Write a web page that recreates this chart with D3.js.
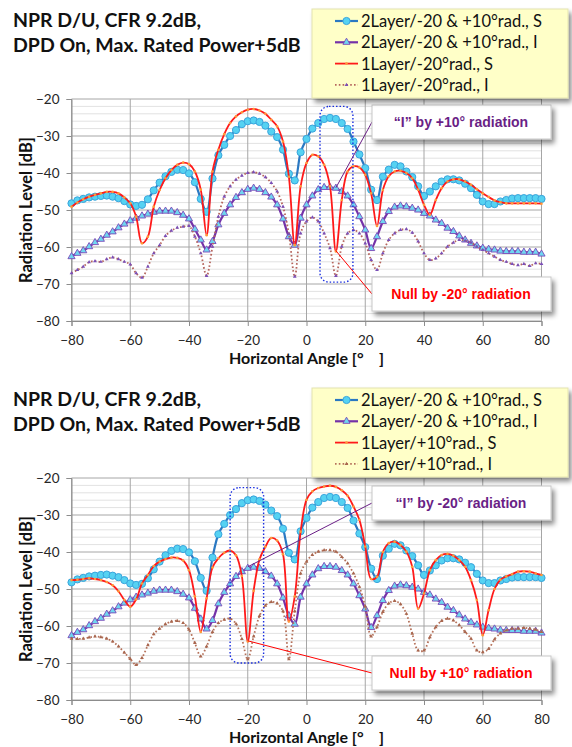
<!DOCTYPE html>
<html>
<head>
<meta charset="utf-8">
<script src="https://cdn.jsdelivr.net/npm/d3@7"></script>
<style>
  body { margin: 0; background: #fff; }
  svg { display: block; font-family: Lato, "Open Sans", sans-serif; }
</style>
</head>
<body>
<svg width="572" height="747"></svg>
<script>
// horizontal angle, 2 degree step
const angles = [-80, -78, -76, -74, -72, -70, -68, -66, -64, -62, -60, -58, -56, -54, -52, -50, -48, -46, -44, -42,
  -40, -38, -36, -34, -32, -30, -28, -26, -24, -22, -20, -18, -16, -14, -12, -10, -8, -6, -4, -2,
  0, 2, 4, 6, 8, 10, 12, 14, 16, 18, 20, 22, 24, 26, 28, 30, 32, 34, 36, 38,
  40, 42, 44, 46, 48, 50, 52, 54, 56, 58, 60, 62, 64, 66, 68, 70, 72, 74, 76, 78, 80];

// 2Layer/-20 & +10 rad., S (same in both charts)
const layer2S = [-48.2, -47.4, -47.0, -46.6, -46.4, -46.2, -46.1, -46.4, -46.8, -47.6, -48.5, -48.9, -48.6, -47.1, -44.7, -42.6, -40.9, -39.7, -39.1, -39.2,
  -40.1, -42.5, -47.0, -50.5, -41.5, -35.2, -32.4, -30.0, -28.4, -26.8, -26.0, -25.8, -26.2, -27.2, -28.8, -30.3, -33.7, -40.2, -42.0, -34.4,
  -30.8, -28.0, -26.5, -25.4, -25.1, -25.4, -26.5, -28.1, -31.5, -35.0, -38.7, -44.5, -47.3, -41.0, -39.1, -37.8, -38.2, -39.6, -41.1, -43.6,
  -46.2, -45.0, -43.6, -42.3, -41.7, -41.7, -42.0, -42.9, -44.1, -45.9, -47.7, -48.4, -48.4, -47.7, -47.3, -46.9, -46.8, -46.8, -46.8, -46.8, -47.0];

// 2Layer/-20 & +10 rad., I (same in both charts)
const layer2I = [-62.6, -61.7, -61.0, -59.9, -58.8, -57.9, -56.8, -55.9, -54.8, -53.8, -52.9, -52.2, -51.6, -51.1, -50.6, -50.3, -50.3, -50.3, -50.7, -51.4,
  -52.4, -55.2, -58.1, -60.8, -58.5, -54.0, -50.9, -48.6, -46.6, -45.3, -44.4, -44.1, -44.4, -45.3, -46.5, -48.6, -52.4, -57.2, -59.5, -52.2,
  -48.6, -46.2, -44.5, -43.9, -43.9, -44.1, -45.0, -46.2, -48.6, -51.8, -55.4, -60.4, -57.2, -53.1, -50.4, -49.2, -48.9, -49.1, -49.5, -50.0,
  -50.9, -51.6, -52.7, -53.6, -54.9, -55.8, -57.0, -58.1, -59.0, -59.7, -60.3, -60.6, -60.8, -61.1, -61.2, -61.2, -61.2, -61.4, -61.4, -61.4, -61.9];

// 1Layer/-20 rad., S
const minus20S = [-49.1, -48.0, -47.1, -46.4, -45.9, -45.5, -45.1, -45.1, -45.5, -46.6, -48.2, -51.8, -59.0, -57.2, -49.1, -44.6, -41.4, -39.2, -37.8, -37.2,
  -37.6, -39.6, -44.5, -56.8, -39.6, -33.7, -29.5, -26.5, -24.7, -23.6, -22.9, -22.7, -23.1, -24.0, -25.6, -27.4, -31.5, -41.0, -59.5, -43.6,
  -37.3, -35.1, -35.5, -37.8, -43.6, -61.2, -47.3, -39.6, -38.2, -38.5, -40.5, -45.5, -54.3, -44.6, -40.9, -39.6, -39.4, -40.0, -41.4, -44.5,
  -48.6, -51.3, -47.3, -44.1, -42.3, -41.7, -41.7, -42.3, -43.2, -44.4, -45.5, -46.5, -47.4, -47.9, -48.2, -48.2, -48.2, -48.2, -48.2, -48.2, -48.3];

// 1Layer/-20 rad., I
const minus20I = [-67.1, -66.2, -65.3, -64.1, -63.8, -64.0, -63.3, -62.8, -63.3, -64.0, -64.7, -67.1, -68.3, -65.3, -61.7, -59.5, -57.0, -55.6, -54.8, -54.5,
  -54.3, -57.2, -61.7, -67.8, -59.9, -51.8, -46.4, -43.6, -41.8, -40.7, -40.0, -39.8, -40.2, -41.1, -42.7, -45.0, -49.1, -56.5, -68.0, -56.3,
  -53.1, -52.0, -53.1, -56.3, -60.3, -67.8, -59.9, -56.3, -55.4, -56.3, -59.0, -63.5, -66.2, -61.7, -58.1, -56.3, -55.4, -55.2, -56.1, -58.5,
  -61.7, -63.5, -63.1, -61.7, -59.9, -58.8, -58.1, -58.3, -58.8, -59.9, -60.8, -61.7, -62.6, -63.5, -64.0, -64.6, -64.9, -64.6, -65.1, -64.4, -64.6];

// 1Layer/+10 rad., S
const plus10S = [-47.6, -47.5, -47.3, -47.1, -47.3, -47.6, -48.1, -49.0, -50.6, -53.0, -54.8, -52.8, -48.5, -46.2, -43.8, -42.6, -41.9, -41.5, -41.6, -42.3,
  -44.9, -52.0, -61.6, -52.5, -44.2, -41.7, -40.2, -39.6, -40.9, -46.5, -64.2, -50.5, -42.0, -38.6, -36.2, -36.9, -40.6, -58.8, -52.0, -34.5,
  -25.9, -23.6, -22.7, -22.3, -22.1, -22.4, -23.3, -24.8, -27.7, -31.3, -38.5, -47.3, -46.7, -40.0, -37.6, -37.2, -38.1, -39.9, -44.0, -55.3,
  -51.2, -44.9, -42.2, -40.8, -40.5, -41.0, -42.2, -44.0, -47.6, -53.0, -62.5, -55.7, -50.0, -47.5, -46.6, -46.0, -45.3, -45.2, -45.3, -45.8, -46.2];

// 1Layer/+10 rad., I
const plus10I = [-63.4, -63.5, -63.4, -63.1, -62.8, -63.0, -63.4, -64.2, -65.5, -67.2, -68.9, -70.5, -68.6, -65.2, -62.2, -60.7, -59.5, -58.8, -58.6, -59.2,
  -61.0, -64.6, -68.2, -65.5, -61.6, -59.2, -58.3, -58.0, -59.4, -63.5, -69.0, -62.8, -57.3, -54.5, -53.5, -53.9, -56.0, -69.0, -56.0, -45.8,
  -42.6, -40.8, -39.9, -39.5, -39.5, -39.9, -41.3, -43.1, -45.8, -49.4, -54.8, -62.8, -60.3, -56.2, -53.9, -53.2, -54.1, -56.7, -62.1, -66.6,
  -66.6, -63.0, -60.3, -58.6, -58.0, -58.5, -59.8, -61.6, -63.4, -66.6, -67.1, -66.2, -63.6, -62.0, -61.2, -60.7, -60.7, -60.5, -60.7, -61.0, -61.6];

const yTicks = [-20, -30, -40, -50, -60, -70, -80];
const xTicks = [-80, -60, -40, -20, 0, 20, 40, 60, 80];
const titleLines = ["NPR D/U, CFR 9.2dB,", "DPD On, Max. Rated Power+5dB"];
const topLegend = ["2Layer/-20 & +10°rad., S", "2Layer/-20 & +10°rad., I", "1Layer/-20°rad., S", "1Layer/-20°rad., I"];
const bottomLegend = ["2Layer/-20 & +10°rad., S", "2Layer/-20 & +10°rad., I", "1Layer/+10°rad., S", "1Layer/+10°rad., I"];

const svg = d3.select("svg");

const defs = svg.append("defs");
defs.append("filter")
  .attr("id", "shadow")
  .attr("x", "-10%").attr("y", "-20%")
  .attr("width", "130%").attr("height", "160%")
  .append("feDropShadow")
  .attr("dx", 3).attr("dy", 4)
  .attr("stdDeviation", 2.5)
  .attr("flood-color", "#000")
  .attr("flood-opacity", 0.45);

const x = d3.scaleLinear().domain([-80, 80]).range([71.5, 541.5]);
const y = d3.scaleLinear().domain([-80, -20]).range([321, 99]);

const styles = [
  { line: "#2a78c2", width: 2.2, dash: null, marker: "circle" },
  { line: "#7432a8", width: 2.2, dash: null, marker: "triangle" },
  { line: "#ff1a1a", width: 1.8, dash: null, marker: "dot" },
  { line: "#b5655d", width: 1.8, dash: "1.6,2.2", marker: "smalltri" }
];

function addMarker(sel, kind, dotColor) {
  if (kind === "circle") {
    sel.append("circle").attr("r", 3.6)
      .attr("fill", "#55d2f2").attr("stroke", "#3aa4dc").attr("stroke-width", 1);
  } else if (kind === "triangle") {
    sel.append("path").attr("d", d3.symbol(d3.symbolTriangle, 22)())
      .attr("fill", "#6fd6f0").attr("stroke", "#7a48b8").attr("stroke-width", 0.9);
  } else if (kind === "dot") {
    sel.append("circle").attr("r", 1.3).attr("fill", "#ff9a3a");
  } else {
    sel.append("path").attr("d", d3.symbol(d3.symbolTriangle, 6)())
      .attr("fill", dotColor);
  }
}

function drawChart(offsetY, series, legendLabels, dotColor, notes) {
  const g = svg.append("g").attr("transform", `translate(0,${offsetY})`);

  // title
  g.append("text")
    .attr("x", 13).attr("y", 27)
    .attr("font-size", 19.5).attr("font-weight", "bold").attr("fill", "#111")
    .selectAll("tspan")
    .data(titleLines)
    .join("tspan")
    .attr("x", 13)
    .attr("dy", (d, i) => i === 0 ? 0 : 25)
    .text(d => d);

  // gridlines
  g.append("g")
    .selectAll("line")
    .data(y.ticks(30).filter(v => v % 10 !== 0))
    .join("line")
    .attr("x1", x(-80)).attr("x2", x(80))
    .attr("y1", d => y(d)).attr("y2", d => y(d))
    .attr("stroke", "#e2e2e2").attr("stroke-width", 1);

  g.append("g")
    .selectAll("line")
    .data(yTicks)
    .join("line")
    .attr("x1", x(-80)).attr("x2", x(80))
    .attr("y1", d => y(d)).attr("y2", d => y(d))
    .attr("stroke", "#a6a6a6").attr("stroke-width", 1);

  g.append("g")
    .selectAll("line")
    .data(xTicks)
    .join("line")
    .attr("x1", d => x(d)).attr("x2", d => x(d))
    .attr("y1", y(-20)).attr("y2", y(-80))
    .attr("stroke", "#a6a6a6").attr("stroke-width", 1);

  // axes
  const yAxis = g.append("g")
    .attr("transform", `translate(${x(-80)},0)`)
    .call(d3.axisLeft(y).tickValues(yTicks).tickSize(5).tickPadding(7));
  const xAxis = g.append("g")
    .attr("transform", `translate(0,${y(-80)})`)
    .call(d3.axisBottom(x).tickValues(xTicks).tickSize(5).tickPadding(9));
  [yAxis, xAxis].forEach(a => {
    a.select(".domain").attr("stroke", "#8c8c8c");
    a.selectAll(".tick line").attr("stroke", "#8c8c8c");
    a.selectAll(".tick text")
      .attr("font-family", "Lato, sans-serif")
      .attr("font-size", 13.5).attr("fill", "#262626");
  });

  g.append("text")
    .attr("transform", `translate(32,${(y(-20) + y(-80)) / 2}) rotate(-90)`)
    .attr("text-anchor", "middle")
    .attr("font-size", 16.5).attr("font-weight", "bold").attr("fill", "#111")
    .text("Radiation Level [dB]");

  g.append("text")
    .attr("x", (x(-80) + x(80)) / 2).attr("y", 364)
    .attr("text-anchor", "middle")
    .attr("font-size", 16).attr("font-weight", "bold").attr("fill", "#111")
    .style("white-space", "pre")
    .text("Horizontal Angle [°    ]");

  // series
  const line = d3.line()
    .x(d => x(d[0]))
    .y(d => y(d[1]))
    .curve(d3.curveCatmullRom.alpha(0.5));

  series.forEach((values, k) => {
    const st = styles[k];
    const pts = angles.map((a, i) => [a, values[i]]);
    const s = g.append("g");
    s.append("path")
      .datum(pts)
      .attr("d", line)
      .attr("fill", "none")
      .attr("stroke", k === 3 ? dotColor.line : st.line)
      .attr("stroke-width", st.width)
      .attr("stroke-dasharray", st.dash);
    const m = s.selectAll("g")
      .data(pts)
      .join("g")
      .attr("transform", d => `translate(${x(d[0])},${y(d[1])})`);
    addMarker(m, st.marker, dotColor.marker);
  });

  // highlighted column
  g.append("rect")
    .attr("x", x(notes.box[0])).attr("y", y(notes.box[3]))
    .attr("width", x(notes.box[1]) - x(notes.box[0]))
    .attr("height", y(notes.box[2]) - y(notes.box[3]))
    .attr("rx", 9)
    .attr("fill", "none")
    .attr("stroke", "#1a2ee0").attr("stroke-width", 1.4)
    .attr("stroke-dasharray", "1.5,2");

  // callouts
  notes.callouts.forEach(c => {
    g.append("line")
      .attr("x1", x(c.at[0])).attr("y1", y(c.at[1]))
      .attr("x2", 372).attr("y2", c.top + 17)
      .attr("stroke", c.color).attr("stroke-width", 1);
    g.append("rect")
      .attr("x", 372).attr("y", c.top)
      .attr("width", 179).attr("height", 34)
      .attr("fill", "#fff").attr("stroke", "#c8c8c8")
      .attr("filter", "url(#shadow)");
    g.append("text")
      .attr("x", 461).attr("y", c.top + 22)
      .attr("text-anchor", "middle")
      .attr("font-family", "Liberation Sans, Arial, sans-serif")
      .attr("font-size", 14).attr("font-weight", "bold")
      .attr("fill", c.color)
      .text(c.text);
  });

  // legend
  const lg = g.append("g").attr("transform", "translate(312,9)");
  lg.append("rect")
    .attr("width", 256).attr("height", 89)
    .attr("fill", "#ffffc8").attr("stroke", "#e4e4b0")
    .attr("filter", "url(#shadow)");
  legendLabels.forEach((label, k) => {
    const st = styles[k];
    const row = lg.append("g").attr("transform", `translate(0,${12 + k * 21.3})`);
    row.append("line")
      .attr("x1", 23).attr("x2", 46)
      .attr("stroke", k === 3 ? dotColor.line : st.line)
      .attr("stroke-width", st.width)
      .attr("stroke-dasharray", st.dash);
    addMarker(row.append("g").attr("transform", "translate(34.5,0)"), st.marker, dotColor.marker);
    row.append("text")
      .attr("x", 49).attr("y", 6)
      .attr("font-size", 16.5).attr("fill", "#111")
      .text(label);
  });
}

drawChart(0, [layer2S, layer2I, minus20S, minus20I], topLegend,
  { line: "#b5655d", marker: "#7a4fb8" },
  {
    box: [4.6, 15.8, -69.5, -22],
    callouts: [
      { text: "“I” by +10° radiation", color: "#6a1f86", at: [10, -44], top: 105 },
      { text: "Null by -20° radiation", color: "#ff0000", at: [10, -61], top: 277 }
    ]
  });

drawChart(379, [layer2S, layer2I, plus10S, plus10I], bottomLegend,
  { line: "#b5715a", marker: "#a8664e" },
  {
    box: [-26, -14.6, -70, -22.6],
    callouts: [
      { text: "“I” by -20° radiation", color: "#6a1f86", at: [-20, -44], top: 107 },
      { text: "Null by +10° radiation", color: "#ff0000", at: [-20, -64], top: 277 }
    ]
  });
</script>
</body>
</html>
